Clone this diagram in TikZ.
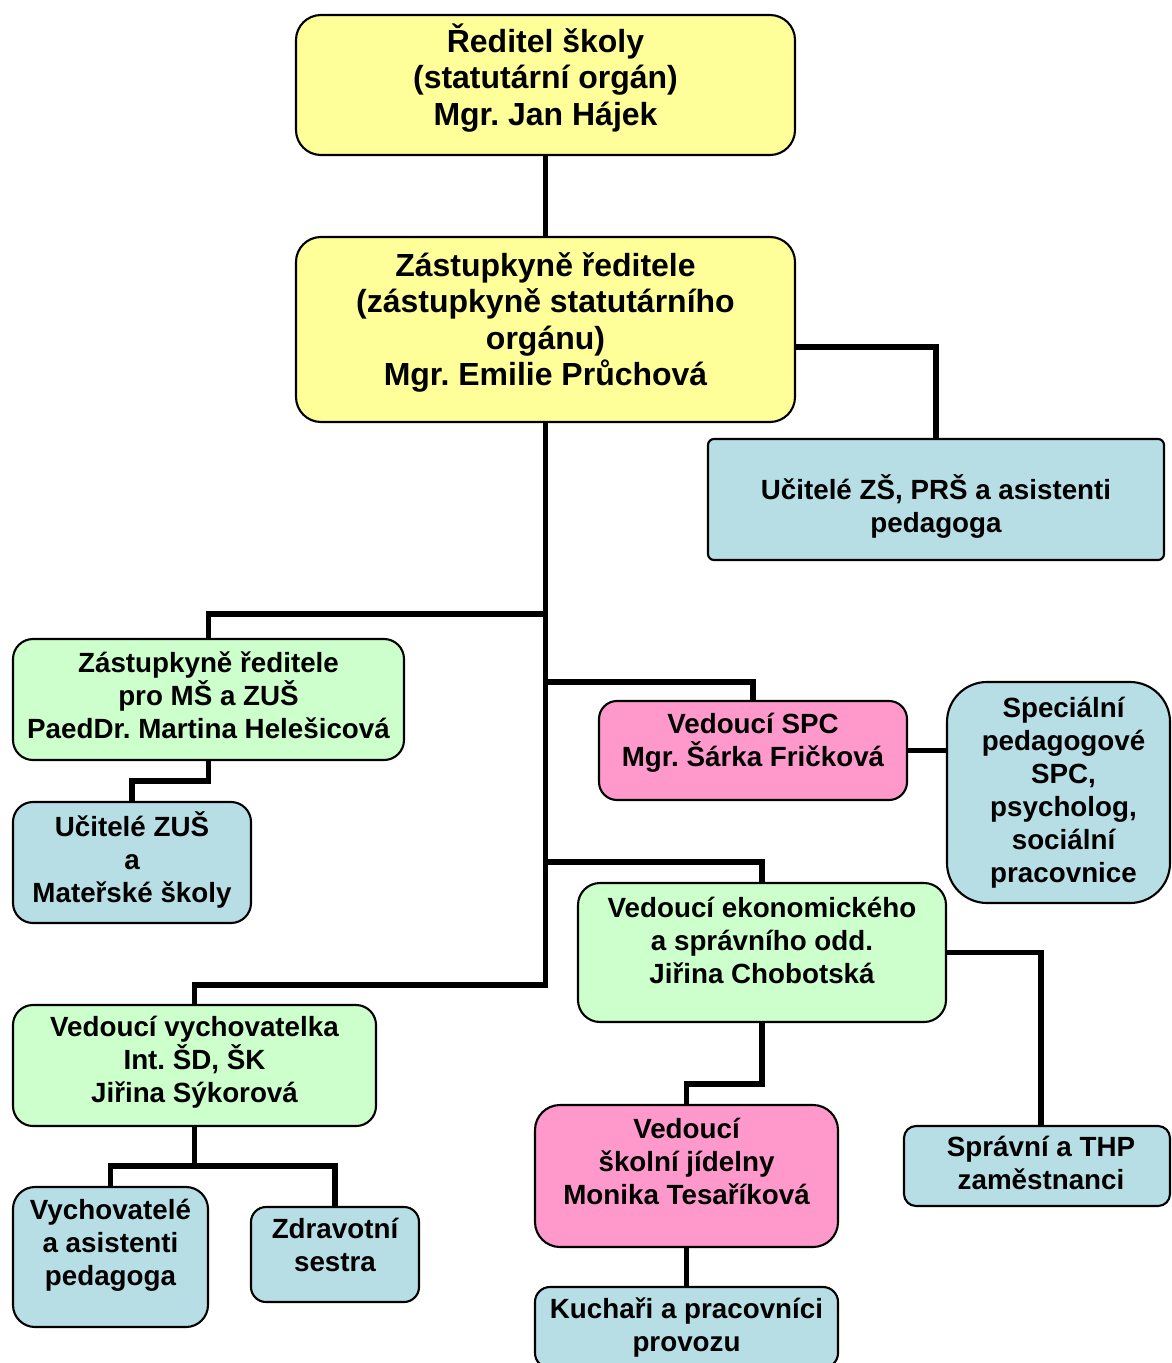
\documentclass[tikz,border=0pt]{standalone}
\usepackage{fontspec}
\setmainfont{Liberation Sans}
\usetikzlibrary{calc}
\frenchspacing
\definecolor{orgyellow}{RGB}{255,255,153}
\definecolor{orggreen}{RGB}{204,255,204}
\definecolor{orgpink}{RGB}{255,153,204}
\definecolor{orgblue}{RGB}{183,222,228}
\tikzset{
  orgnode/.style={draw, line width=0.6pt, inner sep=0pt},
  orgtext/.style={align=center, inner sep=0pt, font=\bfseries\fontsize{7.9}{9.4}\selectfont},
  bigtext/.style={align=center, inner sep=0pt, font=\bfseries\fontsize{9.1}{10.4}\selectfont},
  link/.style={line width=1.65pt}
}
\def\orgbox(#1,#2,#3,#4,#5,#6,#7,#8){
  \node[orgnode, #6, minimum width=#4cm, minimum height=#5cm] (#1) at (#2,#3) {};
  \node[#7] (#1t) at (#1.center) {#8};
}

\begin{document}
\begin{tikzpicture}
\useasboundingbox (0,0) rectangle (11.71,-13.63);
\orgbox(dir,5.455,-0.85,4.99,1.40,{fill=orgyellow, rounded corners=2.5mm},{bigtext, yshift=0.7mm},{Ředitel školy\\(statutární orgán)\\Mgr. Jan Hájek})
\orgbox(zast,5.455,-3.295,4.99,1.85,{fill=orgyellow, rounded corners=2.5mm},{bigtext, yshift=0.7mm},{Zástupkyně ředitele\\(zástupkyně statutárního\\orgánu)\\Mgr. Emilie Průchová})
\orgbox(ucZS,9.36,-4.995,4.56,1.21,{fill=orgblue, rounded corners=0.6mm},{orgtext, yshift=-0.7mm},{Učitelé ZŠ, PRŠ a asistenti\\pedagoga})
\orgbox(zastMS,2.085,-6.995,3.91,1.21,{fill=orggreen, rounded corners=2mm},{orgtext, yshift=0.4mm},{Zástupkyně ředitele\\pro MŠ a ZUŠ\\PaedDr. Martina Helešicová})
\orgbox(ucZUS,1.32,-8.625,2.38,1.21,{fill=orgblue, rounded corners=2mm},{orgtext, yshift=0.3mm},{Učitelé ZUŠ\\a\\Mateřské školy})
\orgbox(spc,7.53,-7.505,3.08,0.99,{fill=orgpink, rounded corners=1.8mm},{orgtext, yshift=0.75mm},{Vedoucí SPC\\Mgr. Šárka Fričková})
\orgbox(spec,10.585,-7.925,2.23,2.21,{fill=orgblue, rounded corners=4mm},{orgtext, xshift=0.5mm},{Speciální\\pedagogové\\SPC,\\psycholog,\\sociální\\pracovnice})
\orgbox(ekon,7.62,-9.525,3.68,1.39,{fill=orggreen, rounded corners=2.2mm},{orgtext, yshift=1.25mm},{Vedoucí ekonomického\\a správního odd.\\Jiřina Chobotská})
\orgbox(vych,1.945,-10.655,3.63,1.21,{fill=orggreen, rounded corners=2mm},{orgtext, yshift=0.3mm},{Vedoucí vychovatelka\\Int. ŠD, ŠK\\Jiřina Sýkorová})
\orgbox(jid,6.865,-11.76,3.03,1.42,{fill=orgpink, rounded corners=2.5mm},{orgtext, yshift=1.5mm},{Vedoucí\\školní jídelny\\Monika Tesaříková})
\orgbox(sprav,10.37,-11.66,2.66,0.80,{fill=orgblue, rounded corners=1.2mm},{orgtext, xshift=0.4mm, yshift=0.3mm},{Správní a THP\\zaměstnanci})
\orgbox(vychov,1.105,-12.57,1.95,1.40,{fill=orgblue, rounded corners=2.2mm},{orgtext, yshift=1.2mm},{Vychovatelé\\a asistenti\\pedagoga})
\orgbox(zdrav,3.35,-12.545,1.68,0.95,{fill=orgblue, rounded corners=1.5mm},{orgtext, yshift=0.95mm},{Zdravotní\\sestra})
\orgbox(kuch,6.865,-13.275,3.03,0.81,{fill=orgblue, rounded corners=1.5mm},{orgtext},{Kuchaři a pracovníci\\provozu})

\coordinate (j1) at (5.455,-6.14);
\coordinate (j2) at (5.455,-6.82);
\coordinate (j3) at (5.455,-8.62);
\coordinate (j4) at (5.455,-9.85);
\draw[link] (dir.south) -- (zast.north);
\draw[link] ([yshift=-1.75mm]zast.east) -| (ucZS.north);
\draw[link] (zast.south) -- (j4) -| (vych.north);
\draw[link] (j1) -| (zastMS.north);
\draw[link] (j2) -| (spc.north);
\draw[link] (j3) -| (ekon.north);
\draw[link] (zastMS.south) -- ++(0,-0.2) -| (ucZUS.north);
\draw[link] (spc.east) -- (spc.east -| spec.west);
\draw[link] (ekon.east) -| ([xshift=0.4mm]sprav.north);
\draw[link] (ekon.south) -- ++(0,-0.61) -| (jid.north);
\draw[link] (jid.south) -- (kuch.north);
\coordinate (vj) at ($(vych.south)+(0,-0.39)$);
\draw[link] (vych.south) -- (vj);
\draw[link] (vychov.north) |- (vj) -| (zdrav.north);
\end{tikzpicture}
\end{document}
